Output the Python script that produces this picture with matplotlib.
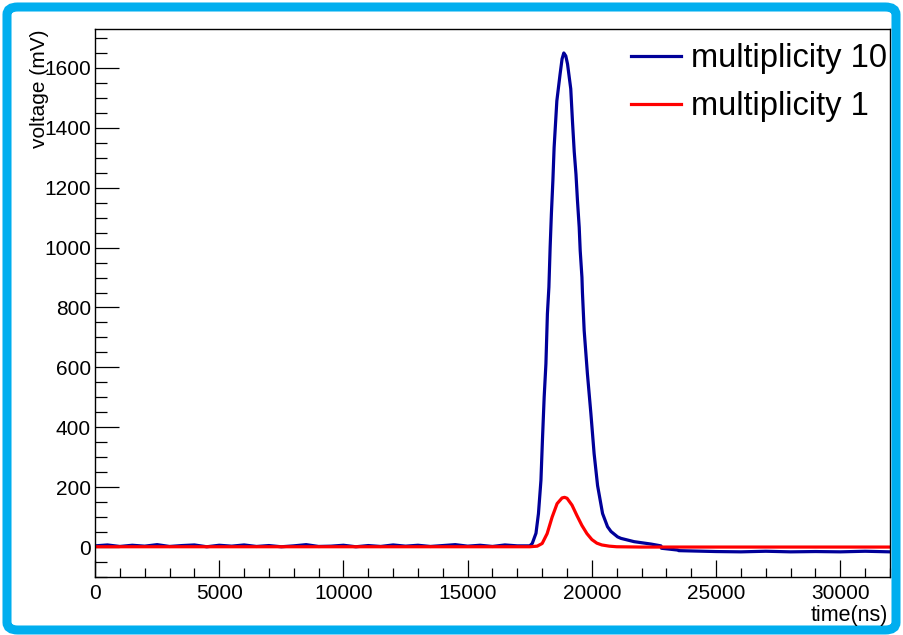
import matplotlib
matplotlib.use("Agg")
import matplotlib.pyplot as plt
from matplotlib.patches import FancyBboxPatch
from matplotlib.ticker import MultipleLocator

plt.rcParams['font.family'] = ['Liberation Sans', 'DejaVu Sans']

# multiplicity 10 waveform (time in ns, voltage in mV)
blue_t = [0, 500, 1000, 1500, 2000, 2500, 3000, 3500, 4000, 4500, 5000, 5500,
          6000, 6500, 7000, 7500, 8000, 8500, 9000, 9500, 10000, 10500, 11000,
          11500, 12000, 12500, 13000, 13500, 14000, 14500, 15000, 15500, 16000,
          16500, 17000, 17500, 17600, 17750, 17850, 17950, 18010, 18080, 18150,
          18210, 18270, 18320, 18370, 18430, 18480, 18590, 18720, 18800, 18870,
          18950, 19020, 19150, 19220, 19290, 19360, 19420, 19490, 19530, 19600,
          19620, 19690, 19820, 19960, 20090, 20230, 20430, 20630, 20770, 21035,
          21170, 21700, 22380, 22780, 22800, 23450, 23500, 25000, 26000, 27000,
          28000, 29000, 30000, 31000, 32000]
blue_v = [4, 7, 2, 6, 3, 8, 2, 5, 7, 1, 6, 3, 7, 2, 5, 1, 4, 8, 2, 3, 6, 1, 5,
          2, 7, 3, 6, 2, 5, 8, 3, 6, 2, 7, 4, 4, 12, 46, 112, 223, 357, 501, 612,
          779, 868, 1001, 1112, 1223, 1334, 1490, 1579, 1630, 1650,
          1640, 1613, 1530, 1420, 1320, 1245, 1157, 1068, 990, 901,
          850, 723, 579, 446, 312, 205, 112, 68, 52, 34,
          29, 18, 10, 4, -4, -10, -12, -15, -16, -14,
          -16, -15, -16, -14, -16]

# multiplicity 1 waveform
red_t = [0, 17500, 17800, 18000, 18200, 18400, 18600, 18800, 18900, 19000,
         19200, 19400, 19600, 19800, 20000, 20200, 20400, 20700, 21000, 22000,
         32000]
red_v = [1, 1, 3, 12, 45, 100, 145, 164, 166, 163, 140, 105, 72, 45, 25, 13,
         7, 3, 1, 0, 0]

labels = ['multiplicity 10', 'multiplicity 1']
xlim = (0, 32000)
ylim = (-100, 1730)

fig = plt.figure(figsize=(9.04, 6.35), dpi=100)
ax = fig.add_axes([95/904, 1-577/635, (890-95)/904, (577-29)/635])

ax.plot(blue_t, blue_v, color='#000099', lw=2.3, label=labels[0])
ax.plot(red_t, red_v, color='#ff0000', lw=2.3, label=labels[1])

ax.set_xlim(*xlim)
ax.set_ylim(*ylim)
ax.xaxis.set_major_locator(MultipleLocator(5000))
ax.xaxis.set_minor_locator(MultipleLocator(1000))
ax.yaxis.set_major_locator(MultipleLocator(200))
ax.yaxis.set_minor_locator(MultipleLocator(50))
ax.tick_params(axis='both', which='both', direction='in', top=False, right=False,
               width=0.9, labelsize=15, colors='black')
ax.tick_params(axis='y', which='major', length=17, pad=3)
ax.tick_params(axis='y', which='minor', length=8.6)
ax.tick_params(axis='x', which='major', length=12, pad=5)
ax.tick_params(axis='x', which='minor', length=6.5)
for s in ax.spines.values():
    s.set_linewidth(1.0)

fig.text(888/904, 1-621/635, 'time(ns)', ha='right', va='baseline', fontsize=15.5)
fig.text(40/904, 1-29/635, 'voltage (mV)', ha='center', va='top',
         rotation=90, fontsize=15)

ax.legend(loc='upper right', frameon=False, fontsize=23.5, handlelength=1.53,
          handletextpad=0.3, labelspacing=0.52, borderpad=0, borderaxespad=0,
          bbox_to_anchor=(887/904, 1-43/635), bbox_transform=fig.transFigure)

border = FancyBboxPatch((7/904, 5/635), (904-15)/904, (635-12)/635,
                        boxstyle='round,pad=0,rounding_size=0.012',
                        transform=fig.transFigure, fill=False,
                        edgecolor='#00aeef', lw=6.5, clip_on=False)
fig.patches.append(border)

fig.savefig('out.png', dpi=100)
